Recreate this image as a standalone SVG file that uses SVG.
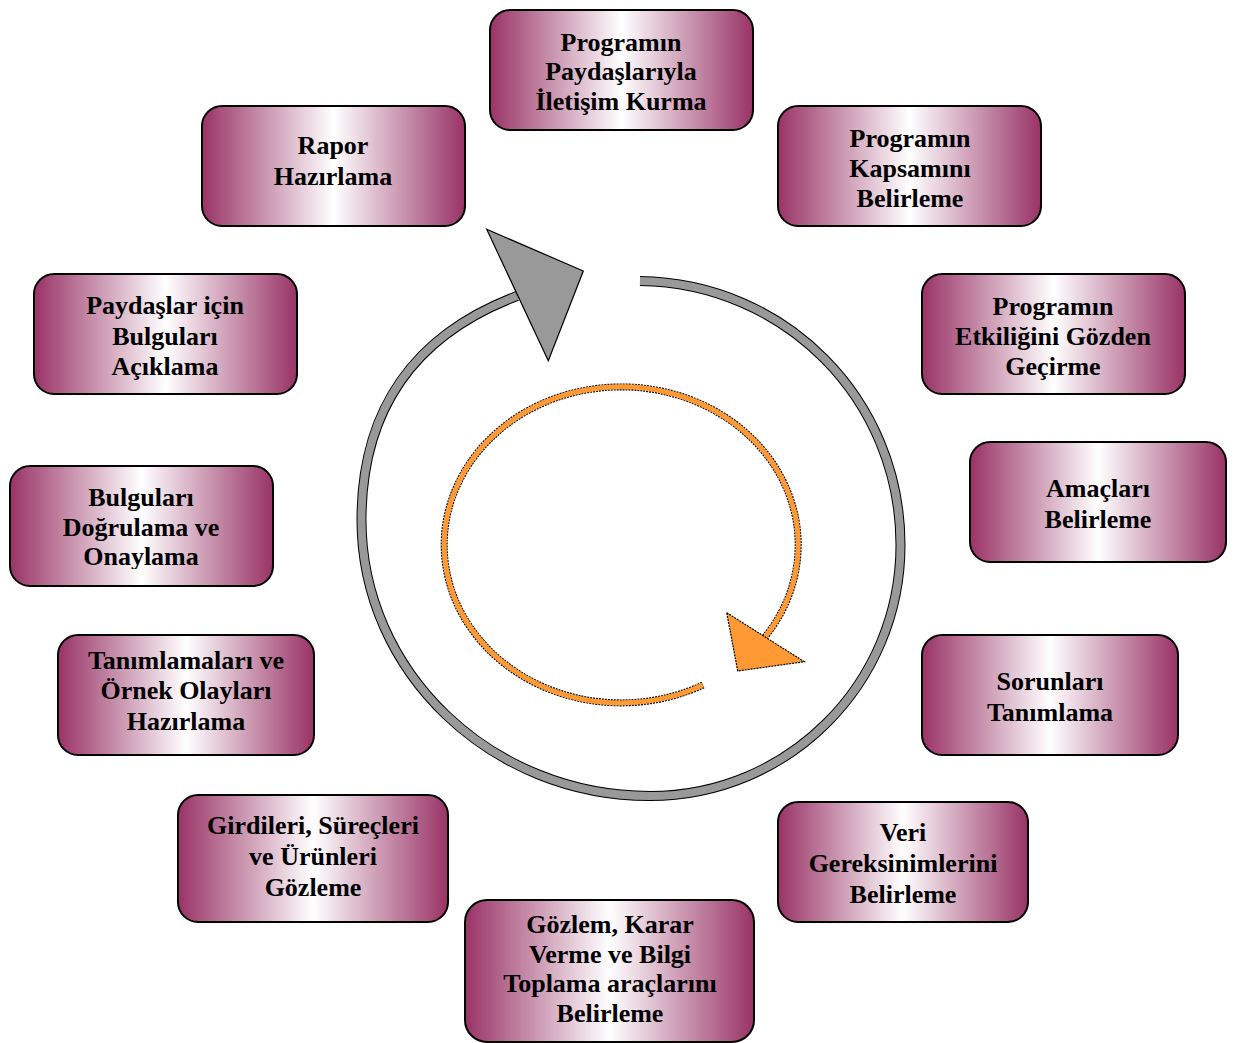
<svg xmlns="http://www.w3.org/2000/svg" width="1237" height="1043" viewBox="0 0 1237 1043">
<defs>
<linearGradient id="g" x1="0" y1="0" x2="1" y2="0">
<stop offset="0" stop-color="#993366"/>
<stop offset="0.5" stop-color="#ffffff"/>
<stop offset="1" stop-color="#993366"/>
</linearGradient>
<clipPath id="c10"><rect x="10" y="466" width="263" height="103"/></clipPath>
</defs>
<style>
.box{fill:url(#g);stroke:#000;stroke-width:2}
.t{font-family:"Liberation Serif","Times New Roman",serif;font-weight:bold;font-size:26px;fill:#000;text-anchor:middle}
.ringO{fill:none;stroke:#000;stroke-width:10}
.ringI{fill:none;stroke:#999999;stroke-width:8}
.oO{fill:none;stroke:#000;stroke-width:7;stroke-dasharray:2 1}
.oI{fill:none;stroke:#FF9933;stroke-width:5}
</style>
<rect width="1237" height="1043" fill="#fff"/>
<g id="connectors">
<path class="ringO" d="M640 281 C785 283 900.5 399 900.5 545 C900.5 684 788 796 650 796 C491 796 361.5 672 361.5 520 C361.5 410 414 335 517 296"/>
<path class="ringI" d="M640 281 C785 283 900.5 399 900.5 545 C900.5 684 788 796 650 796 C491 796 361.5 672 361.5 520 C361.5 410 414 335 517 296"/>
<polygon points="486.7,229.3 583.3,271 548.3,360.7" fill="#999999" stroke="#000" stroke-width="1.2"/>
<path class="oO" d="M703 685 A177 158 0 1 1 765 637"/>
<path class="oI" d="M703 685 A177 158 0 1 1 765 637"/>
<polygon points="726.7,612.7 804.3,661.7 737.7,671" fill="#FF9933" stroke="#000" stroke-width="1.2" stroke-dasharray="2 1"/>
</g>
<g id="n1"><rect class="box" x="490" y="10" width="263" height="120" rx="20"/>
<text class="t" x="621" y="50.5">Programın</text><text class="t" x="621" y="80">Paydaşlarıyla</text><text class="t" x="621" y="109.5">İletişim Kurma</text></g>
<g id="n2"><rect class="box" x="778" y="106" width="263" height="120" rx="20"/>
<text class="t" x="910" y="146.5">Programın</text><text class="t" x="910" y="177">Kapsamını</text><text class="t" x="910" y="207">Belirleme</text></g>
<g id="n3"><rect class="box" x="922" y="274" width="263" height="120" rx="20"/>
<text class="t" x="1053" y="314.5">Programın</text><text class="t" x="1053" y="345">Etkiliğini Gözden</text><text class="t" x="1053" y="375">Geçirme</text></g>
<g id="n4"><rect class="box" x="970" y="442" width="256" height="120" rx="20"/>
<text class="t" x="1098" y="497">Amaçları</text><text class="t" x="1098" y="527.5">Belirleme</text></g>
<g id="n5"><rect class="box" x="922" y="635" width="256" height="120" rx="20"/>
<text class="t" x="1050" y="690">Sorunları</text><text class="t" x="1050" y="720.5">Tanımlama</text></g>
<g id="n6"><rect class="box" x="778" y="802" width="250" height="120" rx="20"/>
<text class="t" x="903" y="841">Veri</text><text class="t" x="903" y="872">Gereksinimlerini</text><text class="t" x="903" y="902.5">Belirleme</text></g>
<g id="n7"><rect class="box" x="465" y="900" width="289" height="142" rx="22"/>
<text class="t" x="610" y="933">Gözlem, Karar</text><text class="t" x="610" y="962.5">Verme ve Bilgi</text><text class="t" x="610" y="992">Toplama araçlarını</text><text class="t" x="610" y="1022">Belirleme</text></g>
<g id="n8"><rect class="box" x="178" y="795" width="270" height="127" rx="20"/>
<text class="t" x="313" y="834">Girdileri, Süreçleri</text><text class="t" x="313" y="865">ve Ürünleri</text><text class="t" x="313" y="896">Gözleme</text></g>
<g id="n9"><rect class="box" x="58" y="635" width="256" height="120" rx="20"/>
<text class="t" x="186" y="669">Tanımlamaları ve</text><text class="t" x="186" y="699">Örnek Olayları</text><text class="t" x="186" y="730">Hazırlama</text></g>
<g id="n10"><rect class="box" x="10" y="466" width="263" height="120" rx="20"/>
<g clip-path="url(#c10)"><text class="t" x="141" y="506">Bulguları</text><text class="t" x="141" y="535.5">Doğrulama ve</text><text class="t" x="141" y="565">Onaylama</text></g></g>
<g id="n11"><rect class="box" x="34" y="274" width="263" height="120" rx="20"/>
<text class="t" x="165" y="314">Paydaşlar için</text><text class="t" x="165" y="345">Bulguları</text><text class="t" x="165" y="375">Açıklama</text></g>
<g id="n12"><rect class="box" x="202" y="106" width="263" height="120" rx="20"/>
<text class="t" x="333" y="154">Rapor</text><text class="t" x="333" y="185">Hazırlama</text></g>
</svg>
